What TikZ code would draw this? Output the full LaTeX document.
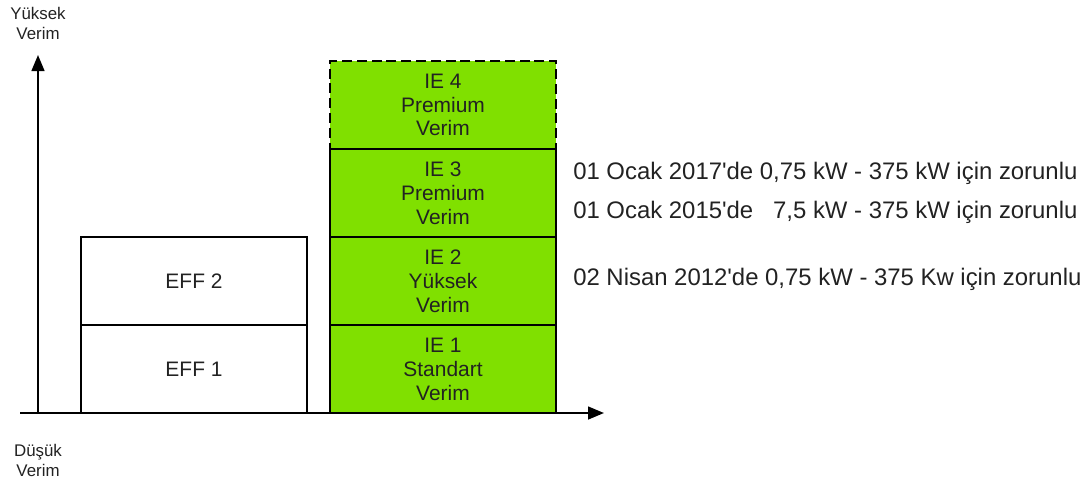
\documentclass[tikz,border=0pt]{standalone}
\usepackage{fontspec}
\setmainfont{Liberation Sans}
\usetikzlibrary{arrows.meta, positioning}
\definecolor{iegreen}{HTML}{80E000}
\definecolor{textgray}{HTML}{222222}

\begin{document}
\begin{tikzpicture}[
    x=0.025cm, y=-0.025cm,
    text=textgray,
    % styles
    axis/.style={line width=1.5pt, -{Triangle[length=0.4cm, width=0.32cm]}},
    levelbox/.style={rectangle, draw=black, line width=1.5pt, outer sep=0pt, minimum width=5.65cm, minimum height=2.2cm, align=center, font=\fontsize{14.9}{17}\selectfont},
    iebox/.style={levelbox, fill=iegreen},
    axislabel/.style={align=center, inner sep=0pt, font=\fontsize{12}{14.2}\selectfont},
    datelabel/.style={anchor=west, inner sep=0pt, font=\fontsize{17}{20}\selectfont}
]
    \useasboundingbox (0,0) rectangle (1089,489);

    % --- axes ---
    \coordinate (ybot) at (38,414);
    \coordinate (ytop) at (38,55);
    \coordinate (xleft) at (20,413);
    \coordinate (xright) at (604,413);
    \draw [axis] (ybot) -- (ytop);
    \draw [axis] (xleft) -- (xright);

    \node (high) [axislabel] at (38,23) {Yüksek\\Verim};
    \node (low) [axislabel] at (38,460) {Düşük\\Verim};

    % --- EFF classes ---
    \node (eff1) [levelbox] at (194,369) {EFF 1};
    \node (eff2) [levelbox, above=0pt of eff1] {EFF 2};

    % --- IE classes ---
    \node (ie1) [iebox] at (443,369) {IE 1\\Standart\\Verim};
    \node (ie2) [iebox, above=0pt of ie1] {IE 2\\Yüksek\\Verim};
    \node (ie4) [iebox, dash pattern=on 0.25cm off 0.12cm, above=2.2cm of ie2] {IE 4\\Premium\\Verim};
    \node (ie3) [iebox, above=0pt of ie2] {IE 3\\Premium\\Verim};

    % --- dates ---
    \node (d2017) [datelabel] at (573,173) {01 Ocak 2017\textquotesingle de 0,75 kW - 375 kW için zorunlu};
    \node (d2015) [datelabel] at (573,212) {01 Ocak 2015\textquotesingle de \ \ 7,5 kW - 375 kW için zorunlu};
    \node (d2012) [datelabel] at (573,279) {02 Nisan 2012\textquotesingle de 0,75 kW - 375 Kw için zorunlu};

\end{tikzpicture}
\end{document}
